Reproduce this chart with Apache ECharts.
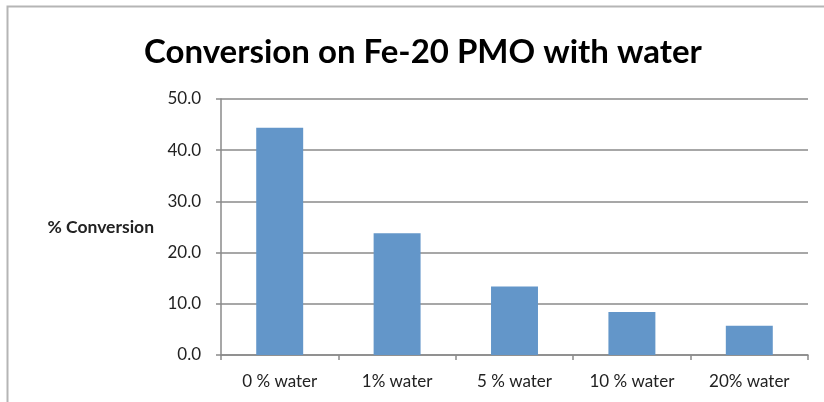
<!DOCTYPE html>
<html>
<head>
<meta charset="utf-8">
<script src="https://cdn.jsdelivr.net/npm/echarts@6/dist/echarts.min.js"></script>
<style>
  html, body { margin: 0; padding: 0; background: #fff; }
  #chart { width: 824px; height: 402px; }
</style>
</head>
<body>
<div id="chart"></div>
<script>
// Water content of each run and the measured conversion
const categories = ['0 % water', '1% water', '5 % water', '10 % water', '20% water'];
const conversion = [44.4, 23.8, 13.4, 8.4, 5.7];
const yTicks = { min: 0, max: 50, interval: 10 };

const chart = echarts.init(document.getElementById('chart'));
const axisGray = '#8a8a8a';

chart.setOption({
  animation: false,
  backgroundColor: '#ffffff',
  title: {
    text: 'Conversion on Fe-20 PMO with water',
    left: 139,
    top: 31,
    textStyle: { fontFamily: 'Lato', fontWeight: 'bold', fontSize: 33, color: '#000' }
  },
  graphic: [{
    type: 'rect',
    shape: { x: 7.5, y: 6.5, width: 830, height: 420 },
    style: { fill: 'none', stroke: '#b5b5b5', lineWidth: 2 },
    silent: true
  }],
  grid: { left: 221, right: 16, top: 99, bottom: 47 },
  xAxis: {
    type: 'category',
    data: categories,
    axisLine: { lineStyle: { color: axisGray, width: 1.5 } },
    axisTick: { show: true, length: 5, alignWithLabel: false, lineStyle: { color: axisGray, width: 1.5 } },
    axisLabel: { fontFamily: 'Lato', fontSize: 17, color: '#222', margin: 18 }
  },
  yAxis: {
    type: 'value',
    min: yTicks.min,
    max: yTicks.max,
    interval: yTicks.interval,
    name: '% Conversion',
    nameLocation: 'middle',
    nameRotate: 0,
    nameGap: 67,
    nameTextStyle: { fontFamily: 'Lato', fontWeight: 'bold', fontSize: 17.5, color: '#222', align: 'right', padding: [4, 0, 0, 0] },
    axisLine: { show: true, lineStyle: { color: axisGray, width: 1.5 } },
    axisTick: { show: true, length: 5, lineStyle: { color: axisGray, width: 1.5 } },
    splitLine: { lineStyle: { color: axisGray, width: 1.5 } },
    axisLabel: {
      fontFamily: 'Lato', fontSize: 17, color: '#222', margin: 20,
      formatter: v => v.toFixed(1)
    }
  },
  series: [{
    type: 'bar',
    data: conversion,
    barCategoryGap: '60%',
    itemStyle: { color: '#6396c9' }
  }]
});
</script>
</body>
</html>
